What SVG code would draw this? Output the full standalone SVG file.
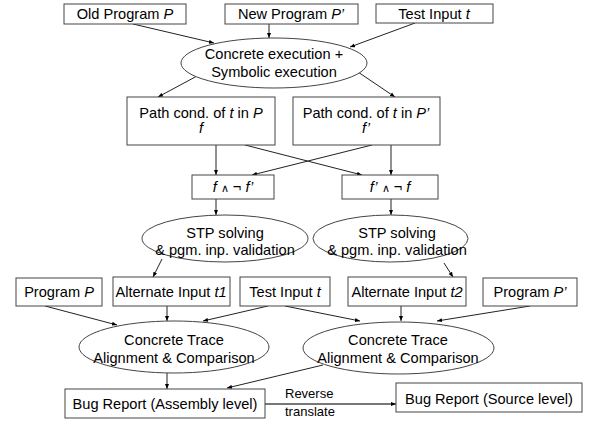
<svg xmlns="http://www.w3.org/2000/svg" width="589" height="423" viewBox="0 0 589 423">
<defs>
<marker id="ah" viewBox="0 0 10 10" refX="10" refY="5" markerWidth="5" markerHeight="5" orient="auto" markerUnits="userSpaceOnUse">
<path d="M0,1 L10,5 L0,9 z" fill="#000"/>
</marker>
<style>
.n{fill:#fff;stroke:#444;stroke-width:1}
.t{font-family:"Liberation Sans",Arial,sans-serif;font-size:14.6px;fill:#000;text-anchor:middle}
.s{font-family:"Liberation Sans",Arial,sans-serif;font-size:13px;fill:#000}
.c{stroke:#222;stroke-width:1;fill:none;marker-end:url(#ah)}
.g{stroke:#777;stroke-width:2;fill:none;marker-end:url(#ah)}
</style>
</defs>
<rect width="589" height="423" fill="#fff"/>
<g id="connectors">
<line class="c" x1="133" y1="24" x2="214" y2="43"/>
<line class="c" x1="269" y1="24" x2="269" y2="38"/>
<line class="c" x1="415" y1="23" x2="350" y2="47"/>
<line class="c" x1="197" y1="76" x2="158" y2="97"/>
<line class="c" x1="358" y1="72" x2="395" y2="97"/>
<line class="c" x1="216" y1="145" x2="216" y2="175"/>
<line class="c" x1="245" y1="145" x2="362" y2="175"/>
<line class="c" x1="372" y1="145" x2="252" y2="175"/>
<line class="c" x1="391" y1="145" x2="391" y2="175"/>
<line class="c" x1="216" y1="199" x2="216" y2="215"/>
<line class="c" x1="391" y1="199" x2="391" y2="215"/>
<line class="c" x1="162" y1="259" x2="153" y2="277"/>
<line class="c" x1="444" y1="263" x2="453" y2="277"/>
<line class="c" x1="45" y1="306" x2="117" y2="325"/>
<line class="c" x1="167" y1="306" x2="167" y2="321"/>
<line class="c" x1="268" y1="306" x2="203" y2="321"/>
<line class="c" x1="285" y1="306" x2="360" y2="321"/>
<line class="c" x1="401" y1="306" x2="401" y2="321"/>
<line class="c" x1="530" y1="306" x2="437" y2="321"/>
<line class="c" x1="167" y1="373" x2="167" y2="389"/>
<line class="c" x1="323" y1="365" x2="227" y2="388"/>
<line class="g" x1="265" y1="404" x2="396" y2="404"/>
<text class="s" x="285" y="398">Reverse</text>
<text class="s" x="285" y="416">translate</text>
</g>
<g id="old-program">
<rect class="n" x="64" y="4" width="122" height="20"/>
<text class="t" x="125" y="19">Old Program <tspan font-style="italic">P</tspan></text>
</g>
<g id="new-program">
<rect class="n" x="225" y="4" width="133" height="20"/>
<text class="t" x="291" y="19">New Program <tspan font-style="italic">P’</tspan></text>
</g>
<g id="test-input-top">
<rect class="n" x="376" y="4" width="117" height="19"/>
<text class="t" x="434" y="19">Test Input <tspan font-style="italic">t</tspan></text>
</g>
<g id="concrete-symbolic">
<ellipse class="n" cx="274" cy="63" rx="93" ry="25"/>
<text class="t" x="274" y="59">Concrete execution +</text>
<text class="t" x="274" y="77">Symbolic execution</text>
</g>
<g id="path-cond-p">
<rect class="n" x="127" y="97" width="148" height="48"/>
<text class="t" x="201" y="118">Path cond. of <tspan font-style="italic">t</tspan> in <tspan font-style="italic">P</tspan></text>
<text class="t" x="201" y="133" font-style="italic">f</text>
</g>
<g id="path-cond-p2">
<rect class="n" x="293" y="97" width="147" height="48"/>
<text class="t" x="366" y="118">Path cond. of <tspan font-style="italic">t</tspan> in <tspan font-style="italic">P’</tspan></text>
<text class="t" x="366" y="133" font-style="italic">f’</text>
</g>
<g id="f-and-not-f2">
<rect class="n" x="192" y="175" width="82" height="24"/>
<text class="t" x="233" y="192"><tspan font-style="italic">f</tspan> <tspan font-size="11">∧</tspan> ¬ <tspan font-style="italic">f’</tspan></text>
</g>
<g id="f2-and-not-f">
<rect class="n" x="342" y="175" width="96" height="24"/>
<text class="t" x="390" y="192"><tspan font-style="italic">f’</tspan> <tspan font-size="11">∧</tspan> ¬ <tspan font-style="italic">f</tspan></text>
</g>
<g id="stp-left">
<ellipse class="n" cx="225" cy="238.5" rx="83" ry="23.5"/>
<text class="t" x="225" y="238">STP solving</text>
<text class="t" x="225" y="255">&amp; pgm. inp. validation</text>
</g>
<g id="stp-right">
<ellipse class="n" cx="390.5" cy="238.5" rx="77.5" ry="23.5"/>
<text class="t" x="397" y="238">STP solving</text>
<text class="t" x="397" y="255">&amp; pgm. inp. validation</text>
</g>
<g id="program-p">
<rect class="n" x="16" y="278" width="86" height="28"/>
<text class="t" x="59" y="297">Program <tspan font-style="italic">P</tspan></text>
</g>
<g id="alt-input-t1">
<rect class="n" x="113" y="277" width="117" height="29"/>
<text class="t" x="171" y="297">Alternate Input <tspan font-style="italic">t1</tspan></text>
</g>
<g id="test-input">
<rect class="n" x="240" y="277" width="90" height="29"/>
<text class="t" x="285" y="297">Test Input <tspan font-style="italic">t</tspan></text>
</g>
<g id="alt-input-t2">
<rect class="n" x="348" y="277" width="118" height="29"/>
<text class="t" x="407" y="297">Alternate Input <tspan font-style="italic">t2</tspan></text>
</g>
<g id="program-p2">
<rect class="n" x="483" y="278" width="94" height="28"/>
<text class="t" x="530" y="297">Program <tspan font-style="italic">P’</tspan></text>
</g>
<g id="trace-left">
<ellipse class="n" cx="174" cy="347" rx="95" ry="26"/>
<text class="t" x="174" y="345">Concrete Trace</text>
<text class="t" x="174" y="363">Alignment &amp; Comparison</text>
</g>
<g id="trace-right">
<ellipse class="n" cx="398.5" cy="348" rx="95.5" ry="26"/>
<text class="t" x="398" y="345">Concrete Trace</text>
<text class="t" x="398" y="363">Alignment &amp; Comparison</text>
</g>
<g id="bug-asm">
<rect class="n" x="65" y="389" width="200" height="29"/>
<text class="t" x="165" y="409">Bug Report (Assembly level)</text>
</g>
<g id="bug-src">
<rect class="n" x="396" y="383" width="186" height="29"/>
<text class="t" x="489" y="404">Bug Report (Source level)</text>
</g>
</svg>
